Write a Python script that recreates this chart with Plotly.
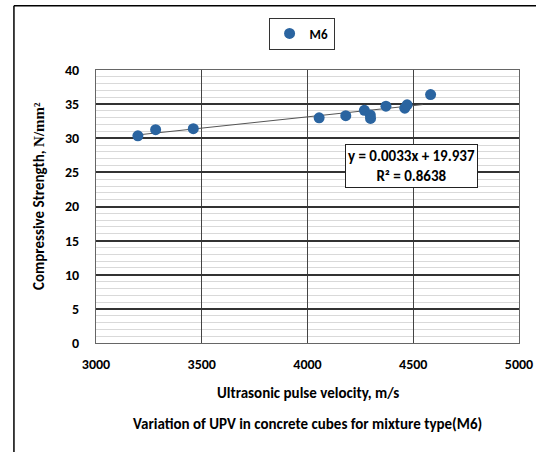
import plotly.graph_objects as go

# Data
upv = [3198, 3282, 3460, 4055, 4181, 4269, 4297, 4298, 4371, 4460, 4471, 4582]
strength = [30.35, 31.25, 31.4, 33.0, 33.3, 34.1, 33.4, 32.9, 34.7, 34.4, 34.9, 36.4]
series_name = "M6"
slope = 0.0033
intercept = 19.937
r2 = 0.8638
trend_x = [3195, 4545]
trend_y = [slope * v + intercept for v in trend_x]

FONT = "Carlito, Lato, 'Open Sans', sans-serif"
BLUE = "#2A64A0"

fig = go.Figure()
fig.add_trace(go.Scatter(x=trend_x, y=trend_y, mode="lines",
                         line=dict(color="#555555", width=1), showlegend=False,
                         hoverinfo="skip"))
fig.add_trace(go.Scatter(x=upv, y=strength, mode="markers", name=f"<b>{series_name}</b>",
                         marker=dict(color=BLUE, size=11)))

fig.update_layout(
    width=536, height=452,
    margin=dict(l=96, r=17, t=70, b=109, autoexpand=False),
    paper_bgcolor="white", plot_bgcolor="white",
    font=dict(family=FONT, size=14, color="black"),
    showlegend=True,
    legend=dict(x=0.486, xanchor="center", y=1 - 33.5 / 452, yanchor="middle",
                yref="container", xref="paper", orientation="h",
                bordercolor="#333333", borderwidth=1,
                font=dict(size=13, family=FONT),
                itemwidth=30),
)
fig.update_xaxes(range=[3000, 5000], dtick=500, tick0=3000,
                 showgrid=True, gridcolor="#444444", gridwidth=1,
                 showline=True, linecolor="#666666", mirror=True,
                 zeroline=False, ticks="", automargin=False,
                 ticklabelstandoff=8,
                 tickfont=dict(size=14, family=FONT),
                 tickformat="d")
fig.update_yaxes(range=[0, 40], dtick=5, tick0=0,
                 showgrid=True, gridcolor="#333333", gridwidth=1.5,
                 minor=dict(dtick=1, showgrid=True, gridcolor="#d9d9d9", gridwidth=1),
                 showline=True, linecolor="#666666", mirror=True,
                 zeroline=False, ticks="", automargin=False,
                 ticklabelstandoff=13,
                 tickfont=dict(size=14, family=FONT))

# tick labels bold
fig.update_xaxes(tickprefix="<b>", ticksuffix="</b>")
fig.update_yaxes(tickprefix="<b>", ticksuffix="</b>")

fig.add_annotation(x=4494, y=25.9, xref="x", yref="y",
                   text=f"<b>y = {slope}x + {intercept}<br>R² = {r2}</b>",
                   showarrow=False, bgcolor="white", bordercolor="#222222",
                   borderwidth=1, borderpad=2,
                   font=dict(size=15, family=FONT), align="center")

# y-axis title
fig.add_annotation(x=-0.135, y=0.538, xref="paper", yref="paper",
                   xanchor="center", yanchor="middle", textangle=-90,
                   text="<b>Compressive Strength, <span style='font-family:Liberation Serif'>N/mm²</span></b>",
                   showarrow=False, font=dict(size=15, family=FONT))
# x-axis title
fig.add_annotation(x=0.5, y=-0.183, xref="paper", yref="paper", yanchor="middle",
                   text="<b>Ultrasonic pulse velocity, m/s</b>",
                   showarrow=False, font=dict(size=15, family=FONT))
# caption
fig.add_annotation(x=0.5, y=-0.297, xref="paper", yref="paper", yanchor="middle",
                   text="<b>Variation of UPV in concrete cubes for mixture type(M6)</b>",
                   showarrow=False, font=dict(size=15, family=FONT))

# outer frame (left and top edges)
fig.add_shape(type="line", xref="paper", yref="paper", x0=-0.194, x1=-0.194,
              y0=1.235, y1=-0.6, line=dict(color="black", width=1.5))
fig.add_shape(type="line", xref="paper", yref="paper", x0=-0.194, x1=1.1,
              y0=1.235, y1=1.235, line=dict(color="black", width=1.5))

fig.write_html("out.html")
